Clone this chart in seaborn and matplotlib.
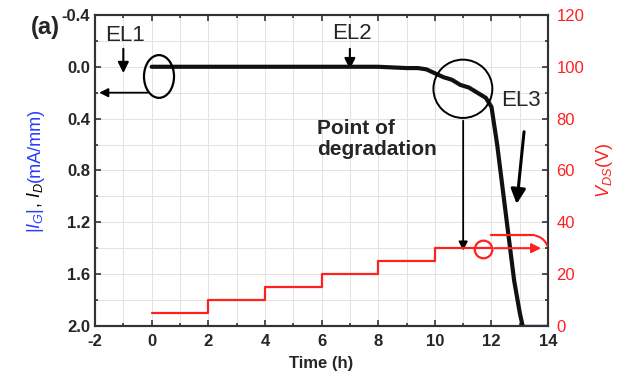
import numpy as np
import pandas as pd
import matplotlib.pyplot as plt
import seaborn as sns
from matplotlib.patches import Ellipse
from matplotlib.ticker import MultipleLocator

#-----------------------------------------------
# drain current (black)
t_id=[0, 2, 4, 6, 8, 8.5, 9.0, 9.4, 9.7, 10.0, 10.3, 10.6, 10.9, 11.2, 11.5, 11.8, 12.0,
      12.2, 12.4, 12.6, 12.8, 13.0, 13.1]
i_d=[0, 0, 0, 0, 0, 0.005, 0.01, 0.01, 0.02, 0.05, 0.08, 0.1, 0.14, 0.16, 0.2, 0.24, 0.31,
     0.6, 0.95, 1.3, 1.65, 1.9, 2.0]
# gate current (blue) after breakdown
t_ig=[13.1, 14.0]
i_g=[2.0, 2.0]
# drain voltage steps (red)
t_vds=[0, 2, 4, 6, 8, 10, 12]
vds=[5, 10, 15, 20, 25, 30, 30]
t_vds2=[12, 13.5]
vds2=[35, 35]

x_ticks=[-2, 0, 2, 4, 6, 8, 10, 12, 14]
y_ticks=[-0.4, 0.0, 0.4, 0.8, 1.2, 1.6, 2.0]
v_ticks=[0, 20, 40, 60, 80, 100, 120]

red='#ff2020'
blue='#2a3cff'

#######################################################
sns.set_style('ticks')
plt.rcParams['font.family']=['Liberation Sans', 'DejaVu Sans']
plt.rcParams['axes.unicode_minus']=False
plt.rcParams['mathtext.fontset']='custom'
plt.rcParams['mathtext.rm']='Liberation Sans'
plt.rcParams['mathtext.it']='Liberation Sans:italic'
plt.rcParams['mathtext.bf']='Liberation Sans:bold'

fig=plt.figure(figsize=(6.25, 3.83), dpi=100)
ax=fig.add_axes([0.152, 0.149, 0.725, 0.812])
ax2=ax.twinx()

df_id=pd.DataFrame({'t': t_id, 'i': i_d})
df_ig=pd.DataFrame({'t': t_ig, 'i': i_g})
df_v=pd.DataFrame({'t': t_vds, 'v': vds})
df_v2=pd.DataFrame({'t': t_vds2, 'v': vds2})

sns.lineplot(data=df_id, x='t', y='i', ax=ax, color='#111111', lw=3, zorder=5)
sns.lineplot(data=df_ig, x='t', y='i', ax=ax, color=blue, lw=2.5, zorder=4)
sns.lineplot(data=df_v, x='t', y='v', ax=ax2, color=red, lw=1.6, drawstyle='steps-post')
sns.lineplot(data=df_v2, x='t', y='v', ax=ax2, color=red, lw=1.6)

# axes limits / ticks
ax.set_xlim(-2, 14)
ax.set_ylim(2.0, -0.4)
ax.set_xticks(x_ticks)
ax.set_yticks(y_ticks)
ax.set_yticklabels([f'{v:.1f}' for v in y_ticks])
ax.xaxis.set_minor_locator(MultipleLocator(1))
ax.yaxis.set_minor_locator(MultipleLocator(0.2))
ax.grid(which='both', color='#e2e2e2', lw=0.7)
ax.set_axisbelow(True)
ax.tick_params(which='both', direction='in', top=True, width=1.2, color='#333333')
ax.tick_params(which='major', length=4)
ax.tick_params(which='minor', length=2.5)
ax.tick_params(axis='x', pad=6)
for lab in ax.get_xticklabels()+ax.get_yticklabels():
    lab.set_fontweight('bold')
    lab.set_fontsize(12)
ax.set_xlabel('Time (h)', fontsize=12, fontweight='bold', labelpad=5)
ax.set_ylabel('')

ax2.set_ylim(0, 120)
ax2.set_yticks(v_ticks)
ax2.yaxis.set_minor_locator(MultipleLocator(10))
ax2.tick_params(which='both', direction='in', width=1.2, color='#333333', labelcolor=red,
                labelsize=12, pad=6)
ax2.tick_params(which='major', length=4)
ax2.tick_params(which='minor', length=2.5)
ax2.set_ylabel('')
ax2.grid(False)
for a in [ax, ax2]:
    for s in a.spines.values():
        s.set_linewidth(1.5)
        s.set_color('#333333')

# left label in pieces of different colour
fig.canvas.draw()
rend=fig.canvas.get_renderer()
ax_h=ax.get_window_extent(rend).height
y=0.30
for s, c in [(r'$|I_G|$', blue), (r', $I_D$', 'black'), ('(mA/mm)', blue)]:
    tx=ax.text(-0.132, y, s, color=c, rotation=90, ha='center', va='bottom',
               fontsize=13, transform=ax.transAxes)
    y+=tx.get_window_extent(rend).height/ax_h

ax.text(1.124, 0.5, r'$V_{DS}$(V)', color=red, rotation=90, ha='center', va='center',
        fontsize=13, transform=ax.transAxes)
fig.text(0.072, 0.927, '(a)', fontsize=17, fontweight='bold', ha='center', va='center')

# annotations
hd=dict(arrowstyle='-|>', color='black', fc='black', lw=1.5, mutation_scale=16)
ax.text(-0.94, -0.245, 'EL1', fontsize=16, ha='center', va='center')
ax.annotate('', xy=(-1.0, 0.07), xytext=(-1.0, -0.16), arrowprops=hd)
ax.text(7.08, -0.26, 'EL2', fontsize=16, ha='center', va='center')
ax.annotate('', xy=(7.0, 0.04), xytext=(7.0, -0.16), arrowprops=hd)
ax.text(13.05, 0.26, 'EL3', fontsize=16, ha='center', va='center')
ax.annotate('', xy=(12.88, 1.08), xytext=(13.16, 0.48),
            arrowprops=dict(arrowstyle='-|>', color='black', fc='black', lw=2.2, mutation_scale=22))
ax.text(5.84, 0.56, 'Point of\ndegradation', fontsize=15, fontweight='bold',
        ha='left', va='center', linespacing=1.15)

ax.add_patch(Ellipse((0.26, 0.075), 1.06, 0.33, fill=False, ec='black', lw=1.6, zorder=6))
ax.annotate('', xy=(-1.95, 0.2), xytext=(-0.05, 0.2),
            arrowprops=dict(arrowstyle='-|>', color='black', fc='black', lw=1.3, mutation_scale=13))
ax.add_patch(Ellipse((10.99, 0.17), 2.08, 0.45, fill=False, ec='black', lw=1.4, zorder=6))
ax.annotate('', xy=(11.0, 1.44), xytext=(11.0, 0.395),
            arrowprops=dict(arrowstyle='-|>', color='black', fc='black', lw=1.3, mutation_scale=13))

ax2.add_patch(Ellipse((11.72, 29.5), 0.62, 6.8, fill=False, ec=red, lw=1.6))
ax2.annotate('', xy=(13.85, 30), xytext=(12.0, 30),
             arrowprops=dict(arrowstyle='-|>', color=red, fc=red, lw=1.5, mutation_scale=14))
ax2.annotate('', xy=(14.0, 30), xytext=(13.45, 35),
             arrowprops=dict(arrowstyle='-', color=red, lw=1.5, connectionstyle='arc3,rad=-0.35'))

#save
plt.savefig('out.png', dpi=100)
plt.close()
